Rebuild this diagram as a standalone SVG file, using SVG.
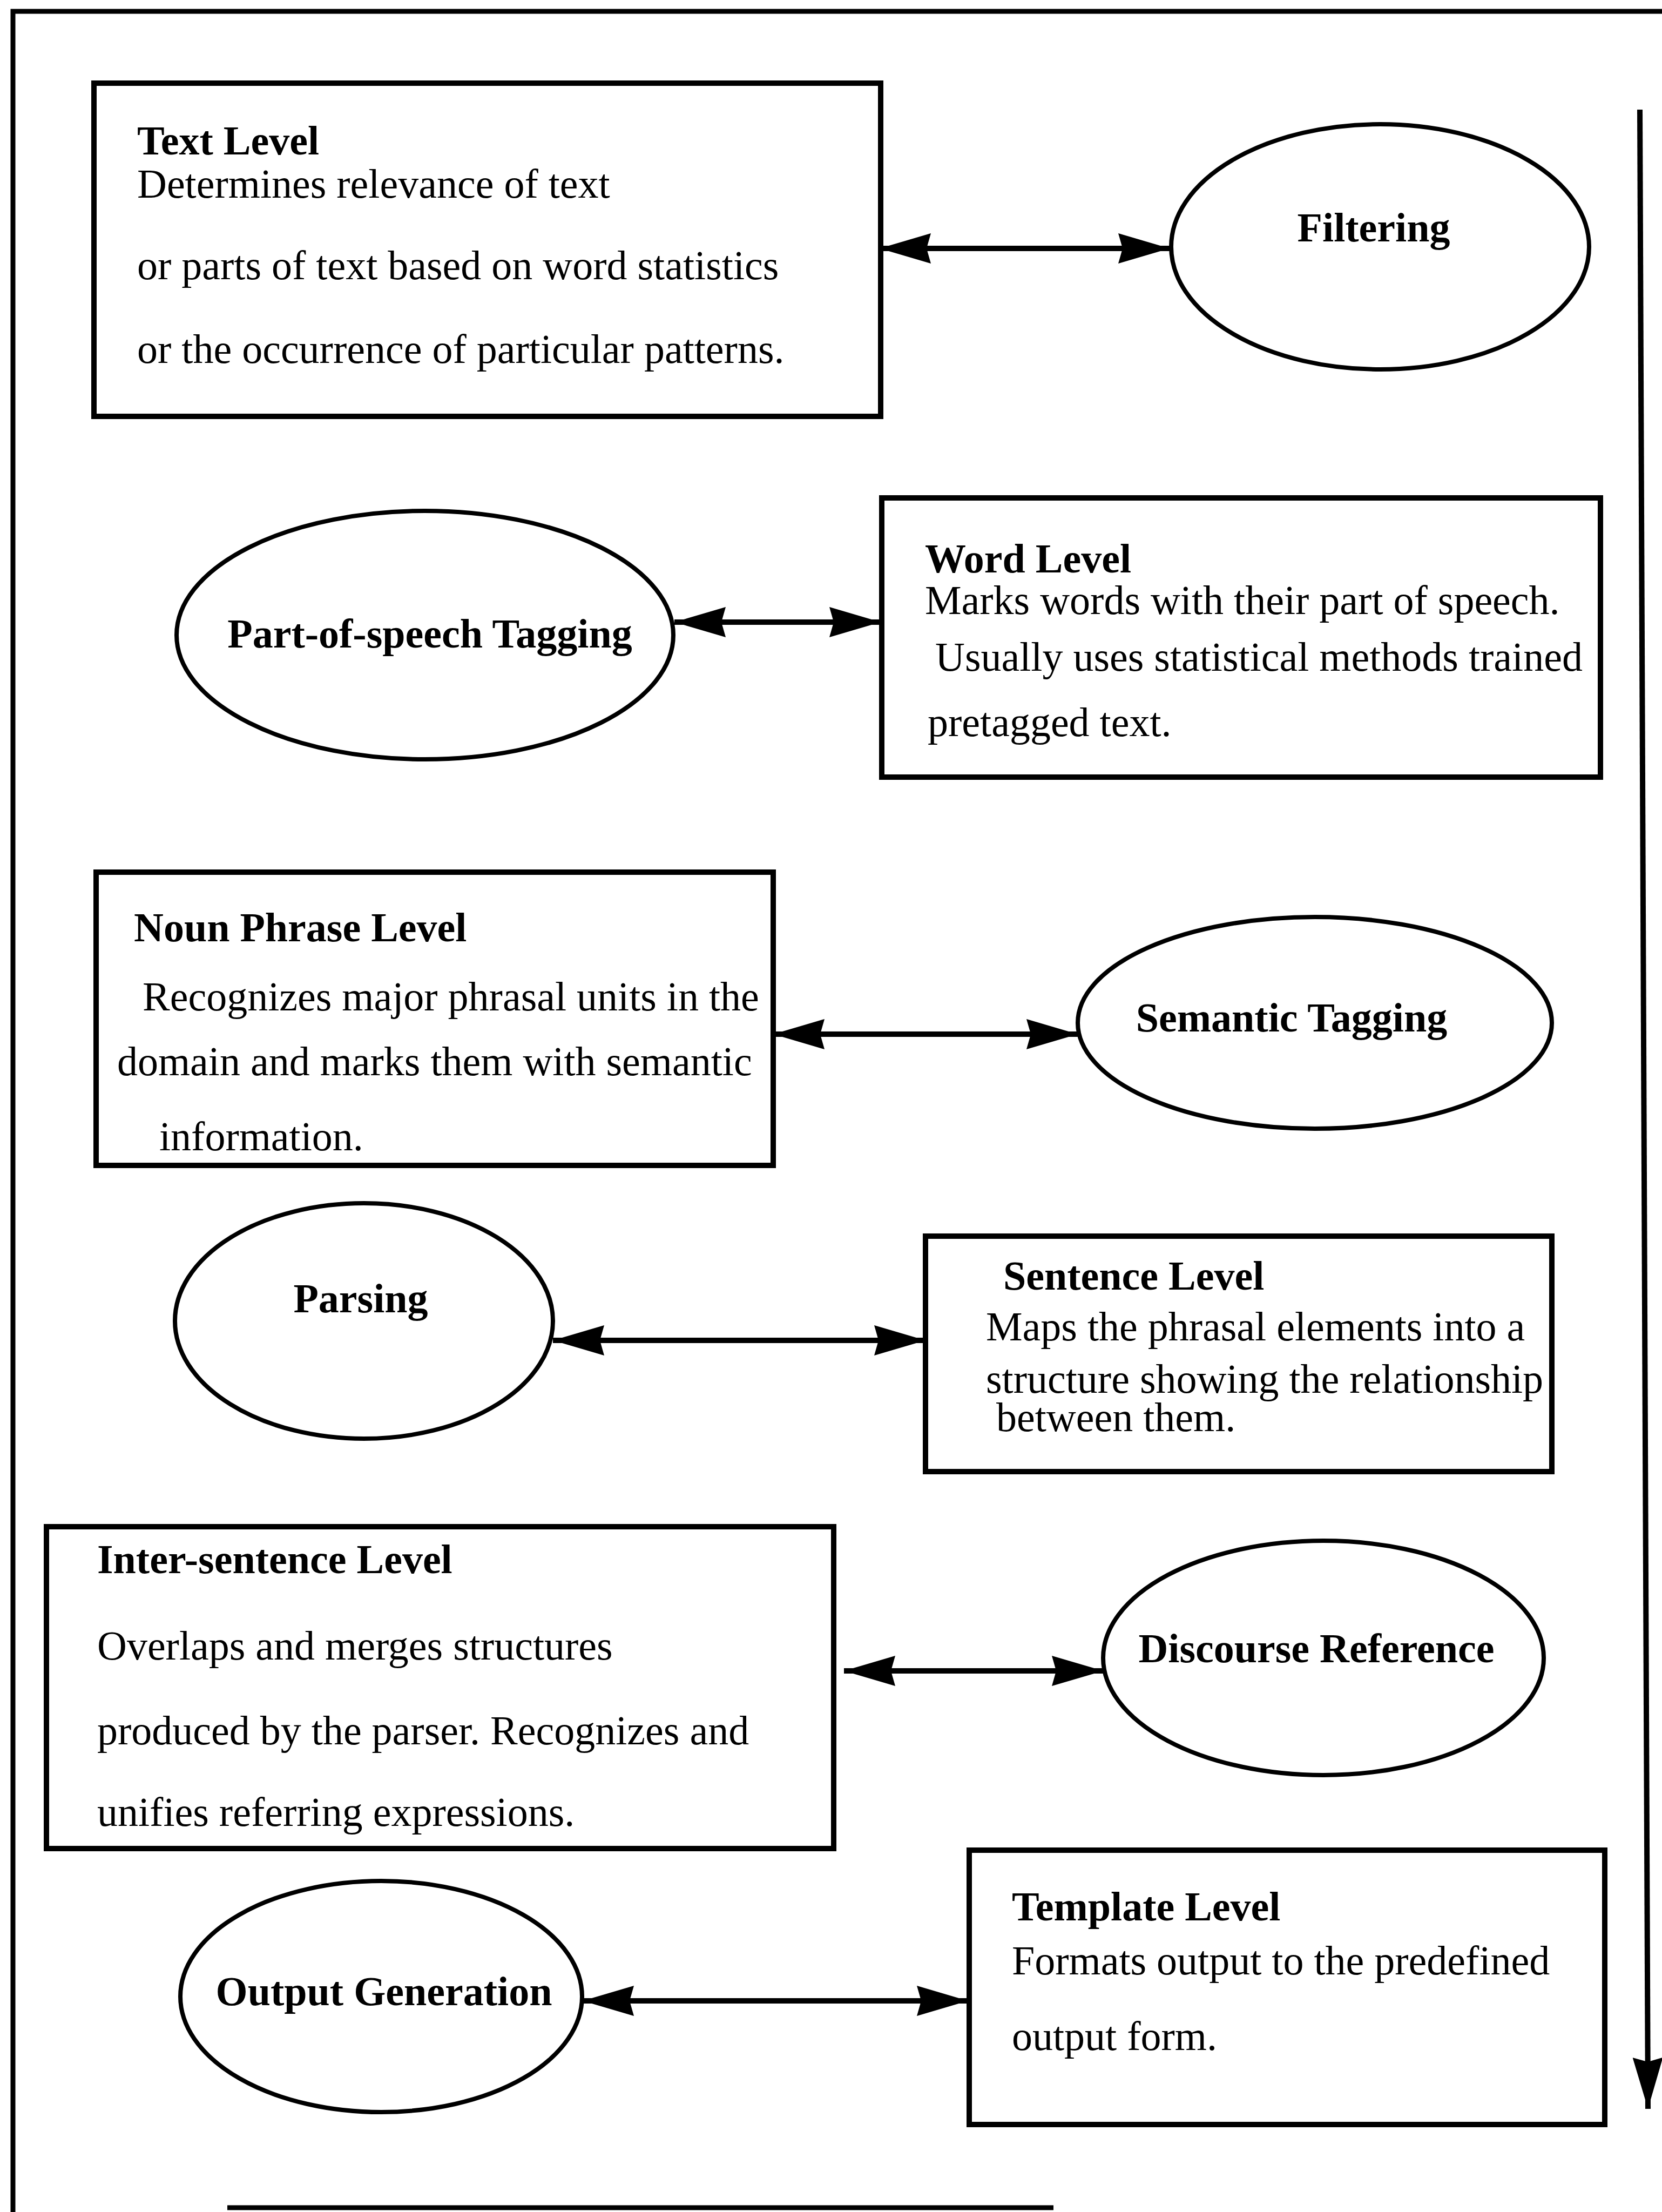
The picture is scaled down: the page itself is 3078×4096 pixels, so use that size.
<svg xmlns="http://www.w3.org/2000/svg" width="3078" height="4096" viewBox="0 0 3078 4096">
<style>
.box{fill:#fff;stroke:#000;stroke-width:10}
.ell{fill:#fff;stroke:#000;stroke-width:8}
.frame{fill:none;stroke:#000;stroke-width:9}
.t{font-family:"Liberation Serif","Times New Roman",serif;font-size:76px;fill:#000}
.b{font-weight:bold}
.c{text-anchor:middle}
.conn{fill:none;stroke:#000;stroke-width:10}
</style>
<defs>
<marker id="ah" viewBox="0 0 95 56" refX="95" refY="28" markerWidth="95" markerHeight="56" markerUnits="userSpaceOnUse" orient="auto-start-reverse">
<path d="M0,0 L95,28 L0,56 L8,28 Z" fill="#000"/>
</marker>
</defs>
<rect width="3078" height="4096" fill="#fff"/>
<g id="frame">
<path class="frame" d="M24,4096 L24,21 L3078,21"/>
<path class="frame" d="M421,4088 L1951,4088"/>
</g>
<g id="text-level">
<rect class="box" x="174" y="154" width="1457" height="617"/>
<text class="t b" x="254" y="286">Text Level</text>
<text class="t" x="254" y="366">Determines relevance of text</text>
<text class="t" x="254" y="517">or parts of text based on word statistics</text>
<text class="t" x="254" y="672">or the occurrence of particular patterns.</text>
</g>
<g id="filtering">
<ellipse class="ell" cx="2556" cy="457" rx="387" ry="227"/>
<text class="t b c" x="2544" y="447">Filtering</text>
</g>
<g id="pos-tagging">
<ellipse class="ell" cx="787" cy="1176" rx="460" ry="230"/>
<text class="t b c" x="796" y="1199">Part-of-speech Tagging</text>
</g>
<g id="word-level">
<rect class="box" x="1633" y="922" width="1331" height="517"/>
<text class="t b" x="1713" y="1060">Word Level</text>
<text class="t" x="1713" y="1137">Marks words with their part of speech.</text>
<text class="t" x="1732" y="1242">Usually uses statistical methods trained</text>
<text class="t" x="1718" y="1363">pretagged text.</text>
</g>
<g id="noun-phrase-level">
<rect class="box" x="178" y="1615" width="1254" height="543"/>
<text class="t b" x="248" y="1743">Noun Phrase Level</text>
<text class="t" x="264" y="1871">Recognizes major phrasal units in the</text>
<text class="t" x="217" y="1991">domain and marks them with semantic</text>
<text class="t" x="295" y="2130">information.</text>
</g>
<g id="semantic-tagging">
<ellipse class="ell" cx="2435" cy="1894" rx="439" ry="196"/>
<text class="t b c" x="2392" y="1910">Semantic Tagging</text>
</g>
<g id="parsing">
<ellipse class="ell" cx="674" cy="2446" rx="350" ry="218"/>
<text class="t b c" x="668" y="2430">Parsing</text>
</g>
<g id="sentence-level">
<rect class="box" x="1714" y="2289" width="1160" height="436"/>
<text class="t b" x="1858" y="2388">Sentence Level</text>
<text class="t" x="1826" y="2482">Maps the phrasal elements into a</text>
<text class="t" x="1826" y="2579">structure showing the relationship</text>
<text class="t" x="1845" y="2650">between them.</text>
</g>
<g id="inter-sentence-level">
<rect class="box" x="86" y="2827" width="1458" height="596"/>
<text class="t b" x="180" y="2913">Inter-sentence Level</text>
<text class="t" x="180" y="3073">Overlaps and merges structures</text>
<text class="t" x="180" y="3230">produced by the parser. Recognizes and</text>
<text class="t" x="180" y="3381">unifies referring expressions.</text>
</g>
<g id="discourse-reference">
<ellipse class="ell" cx="2451" cy="3070" rx="408" ry="217"/>
<text class="t b c" x="2438" y="3078">Discourse Reference</text>
</g>
<g id="output-generation">
<ellipse class="ell" cx="706" cy="3697" rx="372" ry="214"/>
<text class="t b c" x="711" y="3713">Output Generation</text>
</g>
<g id="template-level">
<rect class="box" x="1795" y="3426" width="1177" height="508"/>
<text class="t b" x="1874" y="3556">Template Level</text>
<text class="t" x="1874" y="3656">Formats output to the predefined</text>
<text class="t" x="1874" y="3796">output form.</text>
</g>
<g id="connectors">
<line class="conn" x1="1629" y1="460" x2="2166" y2="460" marker-start="url(#ah)" marker-end="url(#ah)"/>
<line class="conn" x1="1249" y1="1152" x2="1631" y2="1152" marker-start="url(#ah)" marker-end="url(#ah)"/>
<line class="conn" x1="1432" y1="1915" x2="1996" y2="1915" marker-start="url(#ah)" marker-end="url(#ah)"/>
<line class="conn" x1="1024" y1="2482" x2="1714" y2="2482" marker-start="url(#ah)" marker-end="url(#ah)"/>
<line class="conn" x1="1563" y1="3094" x2="2043" y2="3094" marker-start="url(#ah)" marker-end="url(#ah)"/>
<line class="conn" x1="1079" y1="3705" x2="1793" y2="3705" marker-start="url(#ah)" marker-end="url(#ah)"/>
<line class="conn" x1="3037" y1="203" x2="3052" y2="3905" marker-end="url(#ah)"/>
</g>
</svg>
